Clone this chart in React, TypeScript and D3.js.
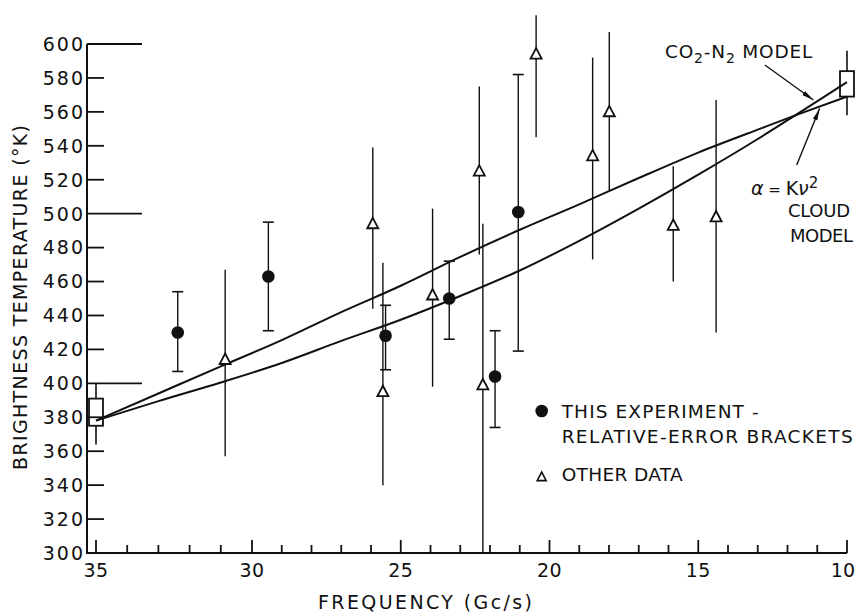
import React from 'react';
import * as d3 from 'd3';

const W = 856;
const H = 612;

// Axis ticks
const freqTicks = d3.range(35, 9, -1);
const freqMajor = [35, 30, 25, 20, 15, 10];
const tempTicks = d3.range(300, 601, 20);
const tempLong = [400, 500, 600];

// This experiment (relative-error brackets)
const expFreq = [32.38, 29.45, 25.51, 23.37, 21.83, 21.05];
const expTemp = [430, 463, 428, 450, 404, 501];
const expLow = [407, 431, 408, 426, 374, 419];
const expHigh = [454, 495, 446, 472, 431, 582];

// Other data
const othFreq = [30.86, 25.94, 25.6, 23.93, 22.36, 22.24, 20.45, 18.55, 17.99, 15.84, 14.4];
const othTemp = [414, 494, 395, 452, 525, 399, 594, 534, 560, 493, 498];
const othLow = [357, 444, 340, 398, 476, 300, 545, 473, 514, 460, 430];
const othHigh = [467, 539, 471, 503, 575, 494, 617, 592, 607, 528, 567];

// Boxed measurements at the ends of the band
const boxFreq = [35, 10];
const boxLow = [375, 569];
const boxHigh = [391, 584];
const boxBarLow = [364, 558];
const boxBarHigh = [400, 596];

// Model curves
const cloudFreq = [35, 33, 31, 29, 27, 25, 23, 21, 19, 17, 15, 13, 11.65, 10];
const cloudTemp = [378, 394, 410, 425.5, 442, 457.5, 474.5, 490.5, 505.5, 521, 536, 549.5, 558.5, 569];
const co2Freq = [35, 33, 31, 29, 27, 25, 23, 21, 19, 17, 15, 13, 11.65, 10];
const co2Temp = [378, 389.5, 400.5, 412, 425, 437.5, 451.5, 466.5, 484, 503, 523, 544, 559, 577.5];

const FONT = "'DejaVu Sans', 'Liberation Sans', sans-serif";
const INK = '#111';

export default function App() {
  const x = d3.scaleLinear().domain([35, 30, 10]).range([96, 252, 847]);
  const y = d3.scaleLinear().domain([300, 600]).range([553, 44]);
  const x0 = 87;
  const y0 = y(300);

  const line = d3
    .line<[number, number]>()
    .x((d) => x(d[0]))
    .y((d) => y(d[1]))
    .curve(d3.curveMonotoneX);

  const cloudPath = line(cloudFreq.map((f, i) => [f, cloudTemp[i]]) as [number, number][]) || '';
  const co2Path = line(co2Freq.map((f, i) => [f, co2Temp[i]]) as [number, number][]) || '';

  const tri = (cx: number, cy: number, s: number) =>
    `M${cx},${cy - s * 0.55} L${cx + s / 2},${cy + s * 0.4} L${cx - s / 2},${cy + s * 0.4} Z`;

  const arrows = [
    { f1: 12.76, t1: 587.6, f2: 11.13, t2: 567 },
    { f1: 11.69, t1: 528.7, f2: 10.92, t2: 562 },
  ];

  return (
    <svg
      width={W}
      height={H}
      viewBox={`0 0 ${W} ${H}`}
      style={{ position: 'absolute', left: 0, top: 0, display: 'block', background: '#fff' }}
      fontFamily={FONT}
    >
      <defs>
        <marker
          id="head"
          markerUnits="userSpaceOnUse"
          markerWidth={12}
          markerHeight={6}
          refX={12}
          refY={3}
          orient="auto"
        >
          <path d="M0,0.6 L12,3 L0,5.4 Z" fill={INK} />
        </marker>
      </defs>
      <rect width={W} height={H} fill="#fff" />

      {/* axes */}
      <line x1={x0} y1={y(600)} x2={x0} y2={y0 + 1} stroke={INK} strokeWidth={2} />
      <line x1={x0} y1={y0} x2={x(10)} y2={y0} stroke={INK} strokeWidth={2} />

      {tempTicks
        .filter((t) => t !== 300)
        .map((t) => (
          <line
            key={`yt${t}`}
            x1={x0}
            x2={x0 + (tempLong.includes(t) ? 55 : 17)}
            y1={y(t)}
            y2={y(t)}
            stroke={INK}
            strokeWidth={1.8}
          />
        ))}
      {tempTicks.map((t) => (
        <text
          key={`yl${t}`}
          x={85}
          y={y(t)}
          dy="0.36em"
          textAnchor="end"
          fontSize={19}
          letterSpacing={2}
          fill={INK}
        >
          {t}
        </text>
      ))}

      {freqTicks.map((f) => (
        <line
          key={`xt${f}`}
          x1={x(f)}
          x2={x(f)}
          y1={y0}
          y2={y0 - (freqMajor.includes(f) ? 13 : 8)}
          stroke={INK}
          strokeWidth={1.8}
        />
      ))}
      {freqMajor.map((f) => (
        <text
          key={`xl${f}`}
          x={f === 10 ? W - 1 : x(f)}
          y={577}
          textAnchor={f === 10 ? 'end' : 'middle'}
          fontSize={19}
          letterSpacing={f === 10 ? 0 : 0.5}
          fill={INK}
        >
          {f}
        </text>
      ))}

      <text x={318} y={609} fontSize={19} textLength={214} lengthAdjust="spacing" fill={INK}>
        FREQUENCY (Gc/s)
      </text>
      <text
        transform="translate(27,297.5) rotate(-90)"
        textAnchor="middle"
        fontSize={19}
        textLength={345}
        lengthAdjust="spacing"
        fill={INK}
      >
        BRIGHTNESS TEMPERATURE (°K)
      </text>

      {/* model curves */}
      <path d={cloudPath} fill="none" stroke={INK} strokeWidth={2} />
      <path d={co2Path} fill="none" stroke={INK} strokeWidth={2} />

      {/* boxed end measurements */}
      {boxFreq.map((f, i) => (
        <g key={`box${i}`}>
          <line x1={x(f)} x2={x(f)} y1={y(boxBarHigh[i])} y2={y(boxHigh[i])} stroke={INK} strokeWidth={1.6} />
          <line x1={x(f)} x2={x(f)} y1={y(boxLow[i])} y2={y(boxBarLow[i])} stroke={INK} strokeWidth={1.6} />
          <rect
            x={x(f) - 7}
            y={y(boxHigh[i])}
            width={14}
            height={y(boxLow[i]) - y(boxHigh[i])}
            fill="none"
            stroke={INK}
            strokeWidth={1.8}
          />
        </g>
      ))}

      {/* other data */}
      {othFreq.map((f, i) => (
        <g key={`o${i}`}>
          <line
            x1={x(f)}
            x2={x(f)}
            y1={y(othHigh[i])}
            y2={y(othLow[i])}
            stroke={INK}
            strokeWidth={1.4}
          />
          <path d={tri(x(f), y(othTemp[i]), 11)} fill="#fff" stroke={INK} strokeWidth={1.8} />
        </g>
      ))}

      {/* this experiment */}
      {expFreq.map((f, i) => (
        <g key={`e${i}`}>
          <line x1={x(f)} x2={x(f)} y1={y(expHigh[i])} y2={y(expLow[i])} stroke={INK} strokeWidth={1.4} />
          <line x1={x(f) - 5.5} x2={x(f) + 5.5} y1={y(expHigh[i])} y2={y(expHigh[i])} stroke={INK} strokeWidth={1.6} />
          <line x1={x(f) - 5.5} x2={x(f) + 5.5} y1={y(expLow[i])} y2={y(expLow[i])} stroke={INK} strokeWidth={1.6} />
          <circle cx={x(f)} cy={y(expTemp[i])} r={6.3} fill={INK} />
        </g>
      ))}

      {/* annotations */}
      {arrows.map((a, i) => (
        <line
          key={`ar${i}`}
          x1={x(a.f1)}
          y1={y(a.t1)}
          x2={x(a.f2)}
          y2={y(a.t2)}
          stroke={INK}
          strokeWidth={1.4}
          markerEnd="url(#head)"
        />
      ))}
      <text x={665} y={58} fontSize={18.5} letterSpacing={0.8} fill={INK}>
        CO
        <tspan fontSize={14} dy={5}>2</tspan>
        <tspan dy={-5}>-N</tspan>
        <tspan fontSize={14} dy={5}>2</tspan>
        <tspan dy={-5}> MODEL</tspan>
      </text>
      <text x={751} y={195} fontSize={19} fill={INK}>
        <tspan fontStyle="italic">α</tspan>
        <tspan fontSize={15}> = </tspan>
        <tspan>K</tspan>
        <tspan fontStyle="italic">ν</tspan>
        <tspan fontSize={15} dy={-7}>2</tspan>
      </text>
      <text x={788} y={217} fontSize={18} textLength={62} lengthAdjust="spacing" fill={INK}>
        CLOUD
      </text>
      <text x={790} y={242} fontSize={18} textLength={63} lengthAdjust="spacing" fill={INK}>
        MODEL
      </text>

      {/* legend */}
      <circle cx={541.7} cy={411} r={6.3} fill={INK} />
      <text x={561.7} y={418} fontSize={18.5} textLength={197} lengthAdjust="spacing" fill={INK}>
        THIS EXPERIMENT -
      </text>
      <text x={561.7} y={443} fontSize={18.5} textLength={291} lengthAdjust="spacing" fill={INK}>
        RELATIVE-ERROR BRACKETS
      </text>
      <path d={tri(541.7, 477, 9)} fill="#fff" stroke={INK} strokeWidth={1.6} />
      <text x={561.7} y={481} fontSize={18.5} textLength={121} lengthAdjust="spacing" fill={INK}>
        OTHER DATA
      </text>
    </svg>
  );
}
